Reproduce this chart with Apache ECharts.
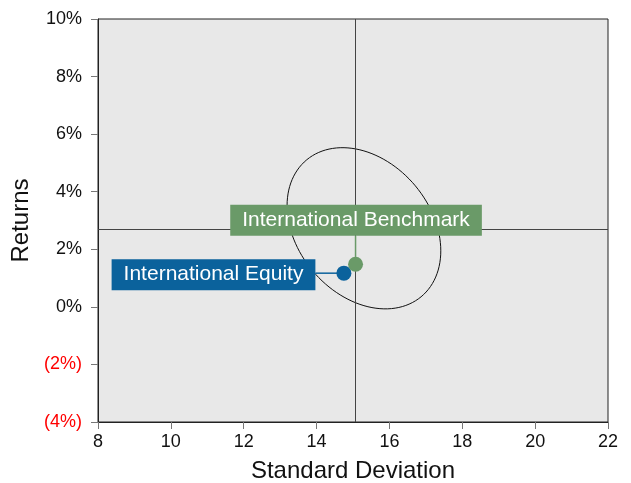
<!DOCTYPE html>
<html>
<head>
<meta charset="utf-8">
<title>Risk / Return</title>
<script src="https://cdn.jsdelivr.net/npm/echarts@6/dist/echarts.min.js"></script>
<style>
  html, body { margin: 0; padding: 0; background: #fff; }
  #chart { width: 631px; height: 483px; }
</style>
</head>
<body>
<div id="chart"></div>
<script>
// axes
const xMin = 8, xMax = 22, xStep = 2
const yMin = -4, yMax = 10, yStep = 2

// portfolios: [std dev, return %]
const names = ['International Equity', 'International Benchmark']
const stdDev = [14.75, 15.07]
const returns = [1.17, 1.48]
const colors = ['#0b629c', '#6a9a68']

// crosshair lines
const crossX = 15.05
const crossY = 2.71

// ellipse: centre, half widths, correlation
const ellipseCenter = [15.3, 2.73]
const ellipseRadius = [2.11, 2.8]
const ellipseRho = -0.28

const FONT = '"Liberation Sans", Arial, sans-serif'

const chart = echarts.init(document.getElementById('chart'))

const points = names.map((n, i) => [stdDev[i], returns[i], n])

const option = {
  animation: false,
  textStyle: { fontFamily: FONT },
  grid: {
    left: 98,
    right: 23,
    top: 19,
    bottom: 61,
    outerBoundsMode: 'none',
    show: true,
    backgroundColor: '#e8e8e8',
    borderColor: '#222',
    borderWidth: 1
  },
  xAxis: {
    type: 'value',
    min: xMin,
    max: xMax,
    interval: xStep,
    name: 'Standard Deviation',
    nameLocation: 'middle',
    nameGap: 37,
    nameTextStyle: { fontSize: 24, color: '#111', fontFamily: FONT },
    axisLine: { onZero: false, lineStyle: { color: '#222', width: 1 } },
    axisTick: { length: 7, lineStyle: { color: '#777' } },
    axisLabel: { fontSize: 18, color: '#111', margin: 11, fontFamily: FONT },
    splitLine: { show: false }
  },
  yAxis: {
    type: 'value',
    min: yMin,
    max: yMax,
    interval: yStep,
    name: 'Returns',
    nameLocation: 'middle',
    nameGap: 65,
    nameMoveOverlap: false,
    nameTextStyle: { fontSize: 24, color: '#111', fontFamily: FONT },
    axisLine: { show: true, onZero: false, lineStyle: { color: '#222', width: 1 } },
    axisTick: { show: true, length: 7, lineStyle: { color: '#777' } },
    axisLabel: {
      fontSize: 18,
      color: '#111',
      margin: 16,
      fontFamily: FONT,
      formatter: (v) => (v < 0 ? '{neg|(' + -v + '%)}' : v + '%'),
      rich: { neg: { color: '#f00', fontSize: 18, fontFamily: FONT } }
    },
    splitLine: { show: false }
  },
  series: [
    {
      // ellipse + crosshair
      type: 'custom',
      z: 2,
      silent: true,
      data: [ellipseCenter],
      renderItem: (params, api) => {
        const cx = api.value(0)
        const cy = api.value(1)
        const s = Math.sqrt(1 - ellipseRho * ellipseRho)
        const pts = []
        for (let k = 0; k < 120; k++) {
          const t = (k / 120) * Math.PI * 2
          const x = cx + ellipseRadius[0] * Math.cos(t)
          const y = cy + ellipseRadius[1] * (ellipseRho * Math.cos(t) + s * Math.sin(t))
          pts.push(api.coord([x, y]))
        }
        return {
          type: 'polygon',
          shape: { points: pts },
          style: { fill: 'none', stroke: '#111', lineWidth: 1 }
        }
      },
      markLine: {
        silent: true,
        symbol: 'none',
        label: { show: false },
        lineStyle: { color: '#444', width: 1, type: 'solid' },
        data: [{ xAxis: crossX }, { yAxis: crossY }]
      }
    },
    {
      // points with call-out labels
      type: 'custom',
      z: 5,
      data: points,
      renderItem: (params, api) => {
        const i = params.dataIndex
        const p = api.coord([api.value(0), api.value(1)])
        const c = colors[i]
        const above = i === 1
        const gap = 28.5
        const end = above ? [p[0], p[1] - gap] : [p[0] - gap, p[1]]
        return {
          type: 'group',
          children: [
            {
              type: 'line',
              shape: { x1: end[0], y1: end[1], x2: p[0], y2: p[1] },
              style: { stroke: c, lineWidth: 1.5 }
            },
            {
              type: 'text',
              x: above ? p[0] + 0.5 : end[0],
              y: above ? end[1] : p[1] + 1.5,
              style: {
                text: names[i],
                fill: '#fff',
                font: '21px ' + FONT,
                align: above ? 'center' : 'right',
                verticalAlign: above ? 'bottom' : 'middle',
                backgroundColor: c,
                padding: [4, 12, 4, 12],
                lineHeight: 23
              }
            },
            {
              type: 'circle',
              shape: { cx: p[0], cy: p[1], r: 7.5 },
              style: { fill: c }
            }
          ]
        }
      }
    }
  ]
}

chart.setOption(option)
</script>
</body>
</html>
